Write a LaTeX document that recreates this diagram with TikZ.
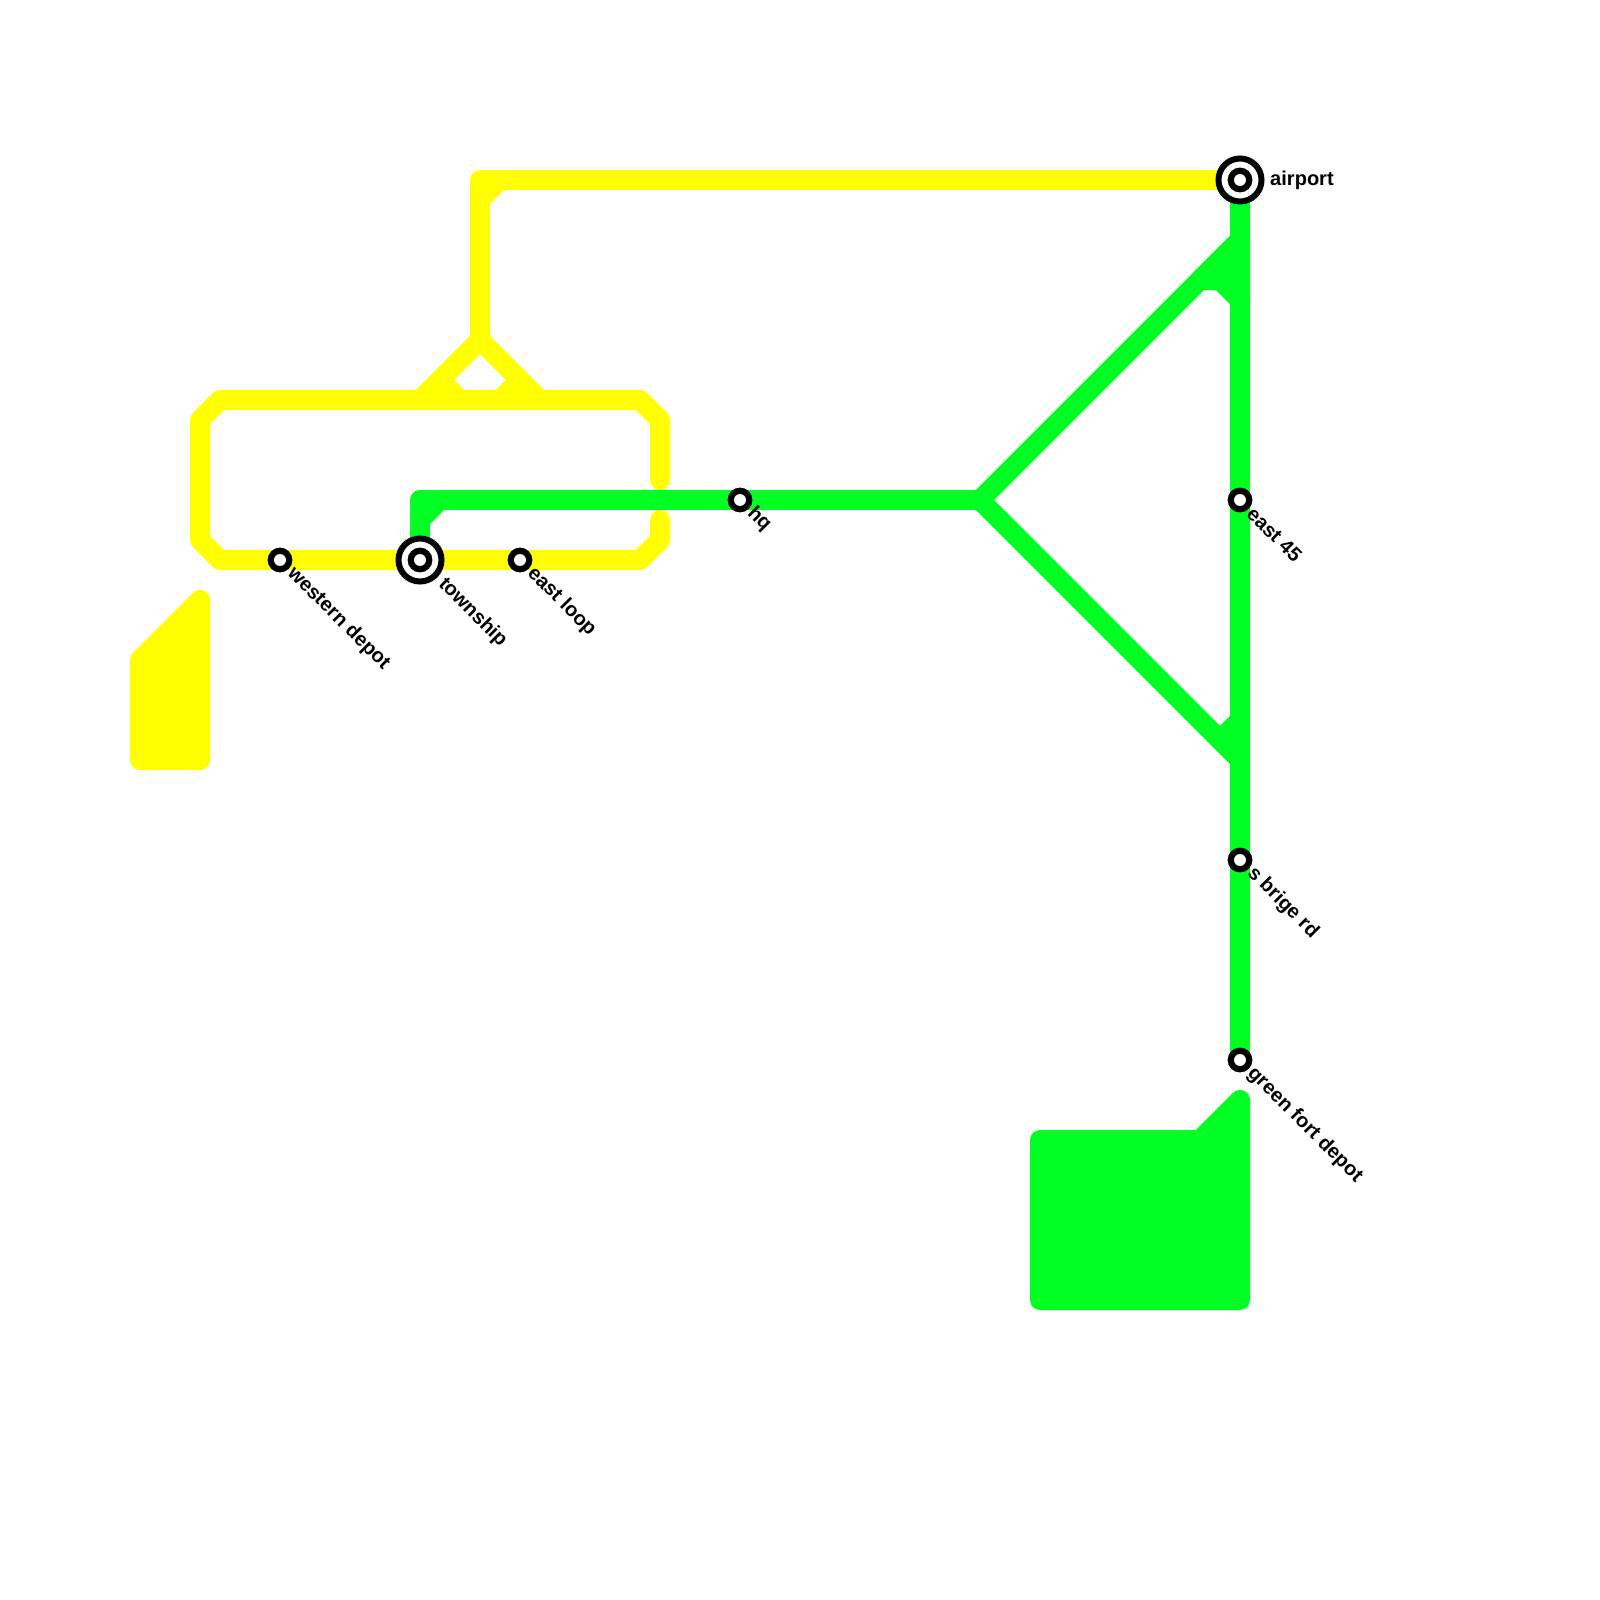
\documentclass[tikz,border=0pt]{standalone}
\usepackage{fontspec}
\setmainfont{Liberation Sans}
\usepackage{xcolor}
\usepackage{tikz}
\usetikzlibrary{positioning}
\definecolor{lineyellow}{HTML}{FFFF00}
\definecolor{linegreen}{HTML}{00FF22}

\begin{document}
\begin{tikzpicture}[
    x=0.01cm,
    y=-0.01cm,
    route/.style={
        line width=0.2cm,
        line join=round,
        line cap=round
    },
    yellowroute/.style={
        route,
        draw=lineyellow
    },
    greenroute/.style={
        route,
        draw=linegreen
    },
    stop/.style={
        circle,
        draw=black,
        fill=white,
        line width=0.062cm,
        minimum size=0.185cm,
        inner sep=0pt
    },
    bigstop/.style={
        circle,
        draw=black,
        fill=white,
        line width=0.06cm,
        minimum size=0.43cm,
        inner sep=0pt
    },
    stopname/.style={
        font=\bfseries\fontsize{5.7}{6.8}\selectfont,
        text=black,
        inner sep=0pt
    },
    slantname/.style={
        stopname,
        anchor=west,
        rotate=-45
    }
]
\useasboundingbox (0,0) rectangle (1600,1600);

% Stops
\coordinate (airport) at (1240,180);
\coordinate (east45) at (1240,500);
\coordinate (sbrige) at (1240,860);
\coordinate (greenfort) at (1240,1060);
\coordinate (hq) at (740,500);
\coordinate (western) at (280,560);
\coordinate (township) at (420,560);
\coordinate (eastloop) at (520,560);

% Junctions
\coordinate (topbend) at (480,180);
\coordinate (fork) at (480,340);
\coordinate (forkleft) at (420,400);
\coordinate (forkright) at (540,400);
\coordinate (greenbend) at (420,500);
\coordinate (split) at (980,500);
\coordinate (splitup) at (1240,240);
\coordinate (splitdown) at (1240,760);

% Yellow line
\draw[yellowroute] (airport) -- (topbend) -- (fork);
\draw[yellowroute] (480,200) -- (500,180);
\draw[yellowroute] (forkleft) -- (fork) -- (forkright);
\draw[yellowroute] (440,380) -- (460,400);
\draw[yellowroute] (500,400) -- (520,380);
\draw[yellowroute] (660,480) -- (660,420) -- (640,400) -- (220,400) -- (200,420)
    -- (200,540) -- (220,560) -- (western) -- (township) -- (eastloop)
    -- (640,560) -- (660,540) -- (660,520);

% Yellow depot
\draw[yellowroute, fill=lineyellow] (200,600) -- (140,660) -- (140,760) -- (200,760) -- cycle;

% Green line
\draw[greenroute] (township) -- (greenbend) -- (hq) -- (split);
\draw[greenroute] (420,520) -- (440,500);
\draw[greenroute] (splitup) -- (split) -- (splitdown);
\draw[greenroute] (airport) -- (east45) -- (sbrige) -- (greenfort);
\draw[greenroute, fill=linegreen] (splitup) -- (1200,280) -- (1220,280) -- (1240,300) -- cycle;
\draw[greenroute] (1220,740) -- (1240,720);

% Green depot
\draw[greenroute, fill=linegreen] (1040,1140) -- (1200,1140) -- (1240,1100) -- (1240,1300) -- (1040,1300) -- cycle;

% Big stops
\node[bigstop] (airportring) at (airport) {};
\node[stop] (airportstop) at (airport) {};
\node[bigstop] (townshipring) at (township) {};
\node[stop] (townshipstop) at (township) {};

% Small stops
\node[stop] (east45stop) at (east45) {};
\node[stop] (sbrigestop) at (sbrige) {};
\node[stop] (greenfortstop) at (greenfort) {};
\node[stop] (hqstop) at (hq) {};
\node[stop] (westernstop) at (western) {};
\node[stop] (eastloopstop) at (eastloop) {};

% Names
\node[stopname, right=0.05cm of airportring] (airportname) {airport};
\node[slantname] (east45name) at ([shift={(10,10)}]east45) {east 45};
\node[slantname] (sbrigename) at ([shift={(10,10)}]sbrige) {s brige rd};
\node[slantname] (greenfortname) at ([shift={(10,10)}]greenfort) {green fort depot};
\node[slantname] (hqname) at ([shift={(10,10)}]hq) {hq};
\node[slantname] (westernname) at ([shift={(10,10)}]western) {western depot};
\node[slantname] (townshipname) at ([shift={(21,21)}]township) {township};
\node[slantname] (eastloopname) at ([shift={(10,10)}]eastloop) {east loop};

\end{tikzpicture}
\end{document}
